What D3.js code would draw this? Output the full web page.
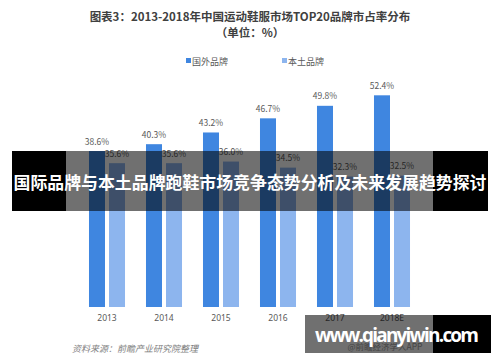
<!DOCTYPE html>
<html>
<head>
<meta charset="utf-8">
<script src="https://cdn.jsdelivr.net/npm/d3@7"></script>
<style>
  body { margin: 0; background: #fff; }
  svg { display: block; font-family: "Noto Sans CJK SC", "Noto Sans", sans-serif; }
</style>
</head>
<body>
<div id="chart"></div>
<script>
var years = ["2013", "2014", "2015", "2016", "2017", "2018E"];
var seriesNames = ["国外品牌", "本土品牌"];
var foreignShare = [38.6, 40.3, 43.2, 46.7, 49.8, 52.4];
var localShare = [35.6, 35.6, 36.0, 34.5, 32.3, 32.5];
var colors = ["#3f86e0", "#8db5ee"];

var width = 500, height = 362;

var svg = d3.select('#chart').append('svg')
    .attr('width', width)
    .attr('height', height);

// title
svg.append('text')
    .attr('x', 250).attr('y', 21)
    .attr('text-anchor', 'middle')
    .style('font-size', '11.5px').style('font-weight', 'bold')
    .style('fill', '#404040')
    .text('图表3：2013-2018年中国运动鞋服市场TOP20品牌市占率分布');
svg.append('text')
    .attr('x', 250).attr('y', 37)
    .attr('text-anchor', 'middle')
    .style('font-size', '11.5px').style('font-weight', 'bold')
    .style('fill', '#404040')
    .text('（单位：%）');

// legend
var legendX = [186, 282];
seriesNames.forEach(function(name, i) {
    svg.append('rect')
        .attr('x', legendX[i]).attr('y', 58)
        .attr('width', 5).attr('height', 5)
        .style('fill', colors[i]);
    svg.append('text')
        .attr('x', legendX[i] + 6).attr('y', 64.5)
        .style('font-size', '9px').style('fill', '#595959')
        .text(name);
});

var x0 = d3.scaleBand()
    .domain(years)
    .range([78.5, 420.5])
    .paddingInner(0.368)
    .paddingOuter(0.184);

var x1 = d3.scaleBand()
    .domain([0, 1])
    .range([0, x0.bandwidth()])
    .paddingInner(0.2);

var y = d3.scaleLinear()
    .domain([0, 60])
    .range([307, 64.6]);

var data = years.map(function(yr, i) {
    return { year: yr, values: [foreignShare[i], localShare[i]] };
});

var groups = svg.append('g').selectAll('g')
    .data(data)
    .enter().append('g')
    .attr('transform', function(d) { return 'translate(' + x0(d.year) + ',0)'; });

groups.selectAll('rect')
    .data(function(d) { return d.values.map(function(v, k) { return { k: k, v: v }; }); })
    .enter().append('rect')
    .attr('x', function(d) { return x1(d.k); })
    .attr('y', function(d) { return y(d.v); })
    .attr('width', x1.bandwidth())
    .attr('height', function(d) { return y(0) - y(d.v); })
    .style('fill', function(d) { return colors[d.k]; });

groups.selectAll('text.val')
    .data(function(d) { return d.values.map(function(v, k) { return { k: k, v: v }; }); })
    .enter().append('text')
    .attr('class', 'val')
    .attr('x', function(d) { return x1(d.k) + x1.bandwidth() / 2; })
    .attr('y', function(d) { return y(d.v) - 6.5; })
    .attr('text-anchor', 'middle')
    .style('font-size', '8.5px').style('fill', '#595959')
    .text(function(d) { return d.v.toFixed(1) + '%'; });

// x axis labels only
var xAxis = d3.axisBottom(x0).tickSize(0).tickPadding(8);
var gx = svg.append('g')
    .attr('transform', 'translate(0,' + y(0) + ')')
    .call(xAxis);
gx.select('.domain').remove();
gx.selectAll('text')
    .style('font-size', '8.5px').style('fill', '#595959')
    .style('font-family', '"Noto Sans", sans-serif');

// source
svg.append('text')
    .attr('x', 72).attr('y', 352)
    .style('font-size', '9px').style('font-style', 'italic')
    .style('fill', '#7f7f7f')
    .text('资料来源：前瞻产业研究院整理');

// overlay band across the middle
svg.append('rect')
    .attr('x', 12).attr('y', 151).attr('width', 54).attr('height', 60)
    .style('fill', '#000');
svg.append('rect')
    .attr('x', 66).attr('y', 151).attr('width', 367).attr('height', 60)
    .style('fill', '#000').style('opacity', 0.56);
svg.append('rect')
    .attr('x', 433).attr('y', 151).attr('width', 55).attr('height', 60)
    .style('fill', '#000');
svg.append('text')
    .attr('x', 250).attr('y', 189)
    .attr('text-anchor', 'middle')
    .style('font-size', '16.9px').style('font-weight', 'bold')
    .style('fill', '#fff')
    .text('国际品牌与本土品牌跑鞋市场竞争态势分析及未来发展趋势探讨');

// watermark bottom right
svg.append('text')
    .attr('x', 385).attr('y', 350)
    .attr('text-anchor', 'middle')
    .style('font-size', '8.5px').style('fill', '#9a9a9a')
    .text('@前瞻经济学人APP');
svg.append('rect')
    .attr('x', 305).attr('y', 315).attr('width', 128).attr('height', 38)
    .style('fill', '#000').style('opacity', 0.56);
svg.append('rect')
    .attr('x', 433).attr('y', 315).attr('width', 58).attr('height', 38)
    .style('fill', '#000');
svg.append('text')
    .attr('x', 315).attr('y', 342)
    .attr('textLength', 164)
    .style('font-family', '"Open Sans", sans-serif')
    .style('font-size', '19px').style('font-weight', 'bold')
    .style('fill', '#fff')
    .text('www.qianyiwin.com');
</script>
</body>
</html>
